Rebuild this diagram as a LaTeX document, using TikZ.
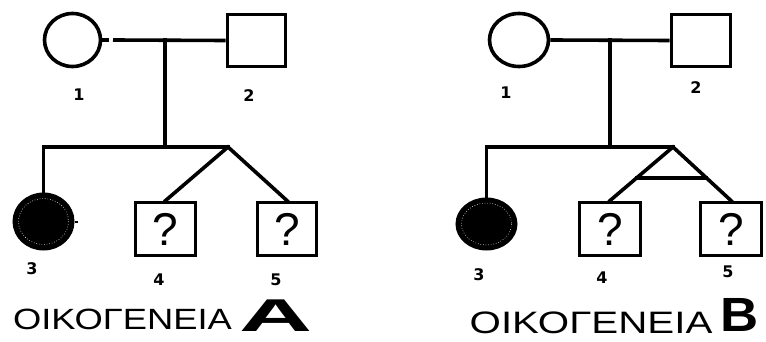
\documentclass[tikz,border=0pt]{standalone}
\usepackage{fontspec}
\usepackage{graphicx}
\setmainfont{Liberation Sans}
\newfontfamily\numfont{DejaVu Sans}
\usetikzlibrary{shapes.geometric,calc}
\tikzset{
  ln/.style={line width=3.6pt, line cap=rect},
  fem/.style={ellipse, draw, line width=3.6pt, inner sep=0pt},
  mal/.style={rectangle, draw, line width=3.8pt, inner sep=0pt, font=\fontsize{46}{46}\selectfont},
  aff/.style={ellipse, draw, fill=black, line width=4pt, inner sep=0pt},
  num/.style={inner sep=0pt, font=\numfont\bfseries\fontsize{16}{16}\selectfont},
  ttl/.style={inner sep=0pt, anchor=base},
}
\begin{document}
\begin{tikzpicture}[x=1pt,y=-1pt]
\useasboundingbox (0,0) rectangle (766,342);
% ---------- Family A ----------
\node[fem, minimum width=56, minimum height=53] (a1) at (72.5,40) {};
\node[mal, minimum width=58, minimum height=52] (a2) at (256.5,40.5) {};
\node[aff, minimum width=58, minimum height=54] (a3) at (43.5,221.5) {};
\draw[white, dotted, line width=0.6pt] (a3.center) ellipse (25 and 23);
\node[mal, minimum width=60, minimum height=53] (a4) at (165.5,229) {?};
\node[mal, minimum width=59, minimum height=53] (a5) at (287,229) {?};
\coordinate (aT) at (109,40);
\coordinate (aG) at (113,40);
\coordinate (aM) at (165,40);
\coordinate (aApex) at (228,147);
\draw[ln, line cap=butt] (a1.east) -- (aT);
\draw[ln, line cap=butt] (aG) -- (a2.west);
\draw[ln] (aM) -- (aM |- aApex);
\draw[ln] (a3.north) |- (aApex);
\draw[ln] (a4.north) -- (aApex) -- (a5.north);
\draw[line width=2pt] (a3.east) -- ++(3,0);
\node[num] (na1) at (79,95) {1};
\node[num] (na2) at (249,96) {2};
\node[num] (na3) at (32,269) {3};
\node[num] (na4) at (159,280) {4};
\node[num] (na5) at (276,280) {5};
\node[ttl, font=\fontsize{29.3}{30}\selectfont] (ta) at (122.5,329) {\scalebox{1.24}[1]{ΟΙΚΟΓΕΝΕΙΑ}};
\node[ttl, font=\bfseries\fontsize{46}{46}\selectfont] (tA) at (276,331.5) {\scalebox{2.2}[1]{A}};
% ---------- Family B ----------
\node[fem, minimum width=59, minimum height=53] (b1) at (519,40) {};
\node[mal, minimum width=59, minimum height=52] (b2) at (701,40.5) {};
\node[aff, minimum width=58, minimum height=49] (b3) at (486.5,224) {};
\draw[white, dotted, line width=0.6pt] (b3.center) ellipse (25 and 21);
\node[mal, minimum width=61, minimum height=53] (b4) at (610,229) {?};
\node[mal, minimum width=61, minimum height=53] (b5) at (731,229) {?};
\coordinate (bM) at (610,40);
\coordinate (bApex) at (673,147);
\draw[ln, line cap=butt] (b1.east) -- (b2.west);
\draw[ln] (bM) -- (bM |- bApex);
\draw[ln] (b3.north) |- (bApex);
\draw[ln] (b4.north) -- (bApex) -- (b5.north);
\draw[ln] ($(bApex)!0.574!(b4.north)$) -- ($(bApex)!0.574!(b5.north)$);
\node[num] (nb1) at (506,93) {1};
\node[num] (nb2) at (696,88) {2};
\node[num] (nb3) at (479,275) {3};
\node[num] (nb4) at (602,278) {4};
\node[num] (nb5) at (728,272) {5};
\node[ttl, font=\fontsize{31}{31}\selectfont] (tb) at (591,333.5) {\scalebox{1.3}[1]{ΟΙΚΟΓΕΝΕΙΑ}};
\node[ttl, font=\bfseries\fontsize{48}{48}\selectfont] (tB) at (740,331.5) {\scalebox{1.1}[1]{B}};
\end{tikzpicture}
\end{document}
